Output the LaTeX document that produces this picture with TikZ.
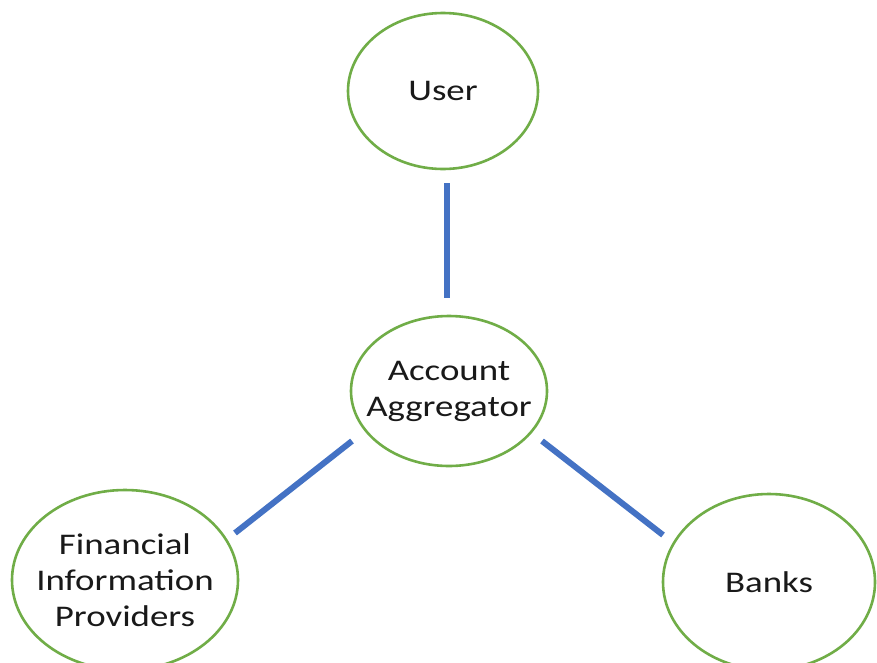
\documentclass[tikz,border=0pt]{standalone}
\usepackage{fontspec}
\setmainfont[FakeStretch=1.23]{Carlito}
\usetikzlibrary{shapes.geometric}
\definecolor{ringgreen}{HTML}{70AD47}
\definecolor{linkblue}{HTML}{4472C4}
\begin{document}
\begin{tikzpicture}[x=1pt,y=-1pt,
  party/.style={draw=ringgreen,line width=2.6pt,ellipse,inner sep=0pt},
  lbl/.style={align=center,inner sep=0pt,font=\fontsize{30}{36}\selectfont,text=black!90},
  link/.style={draw=linkblue,line width=6pt}]
\useasboundingbox[fill=white] (0,0) rectangle (877,662);
\node[party,minimum width=190pt,minimum height=156pt,
  label={[lbl,name=userlbl]center:User}] (user) at (443,91) {};
\node[party,minimum width=196pt,minimum height=150pt,
  label={[lbl,name=aalbl]center:Account\\Aggregator}] (aa) at (449,391) {};
\node[party,minimum width=226pt,minimum height=180pt,
  label={[lbl,name=fiplbl]center:Financial\\Information\\Providers}] (fip) at (125,580) {};
\node[party,minimum width=212pt,minimum height=176pt,
  label={[lbl,name=bankslbl]center:Banks}] (banks) at (769,582) {};
\coordinate (u1) at (447,183);
\coordinate (u2) at (447,298);
\coordinate (f1) at (352,441);
\coordinate (f2) at (235,533);
\coordinate (b1) at (542,441);
\coordinate (b2) at (663,535);
\draw[link] (u1) -- (u2);
\draw[link] (f1) -- (f2);
\draw[link] (b1) -- (b2);
\end{tikzpicture}
\end{document}
